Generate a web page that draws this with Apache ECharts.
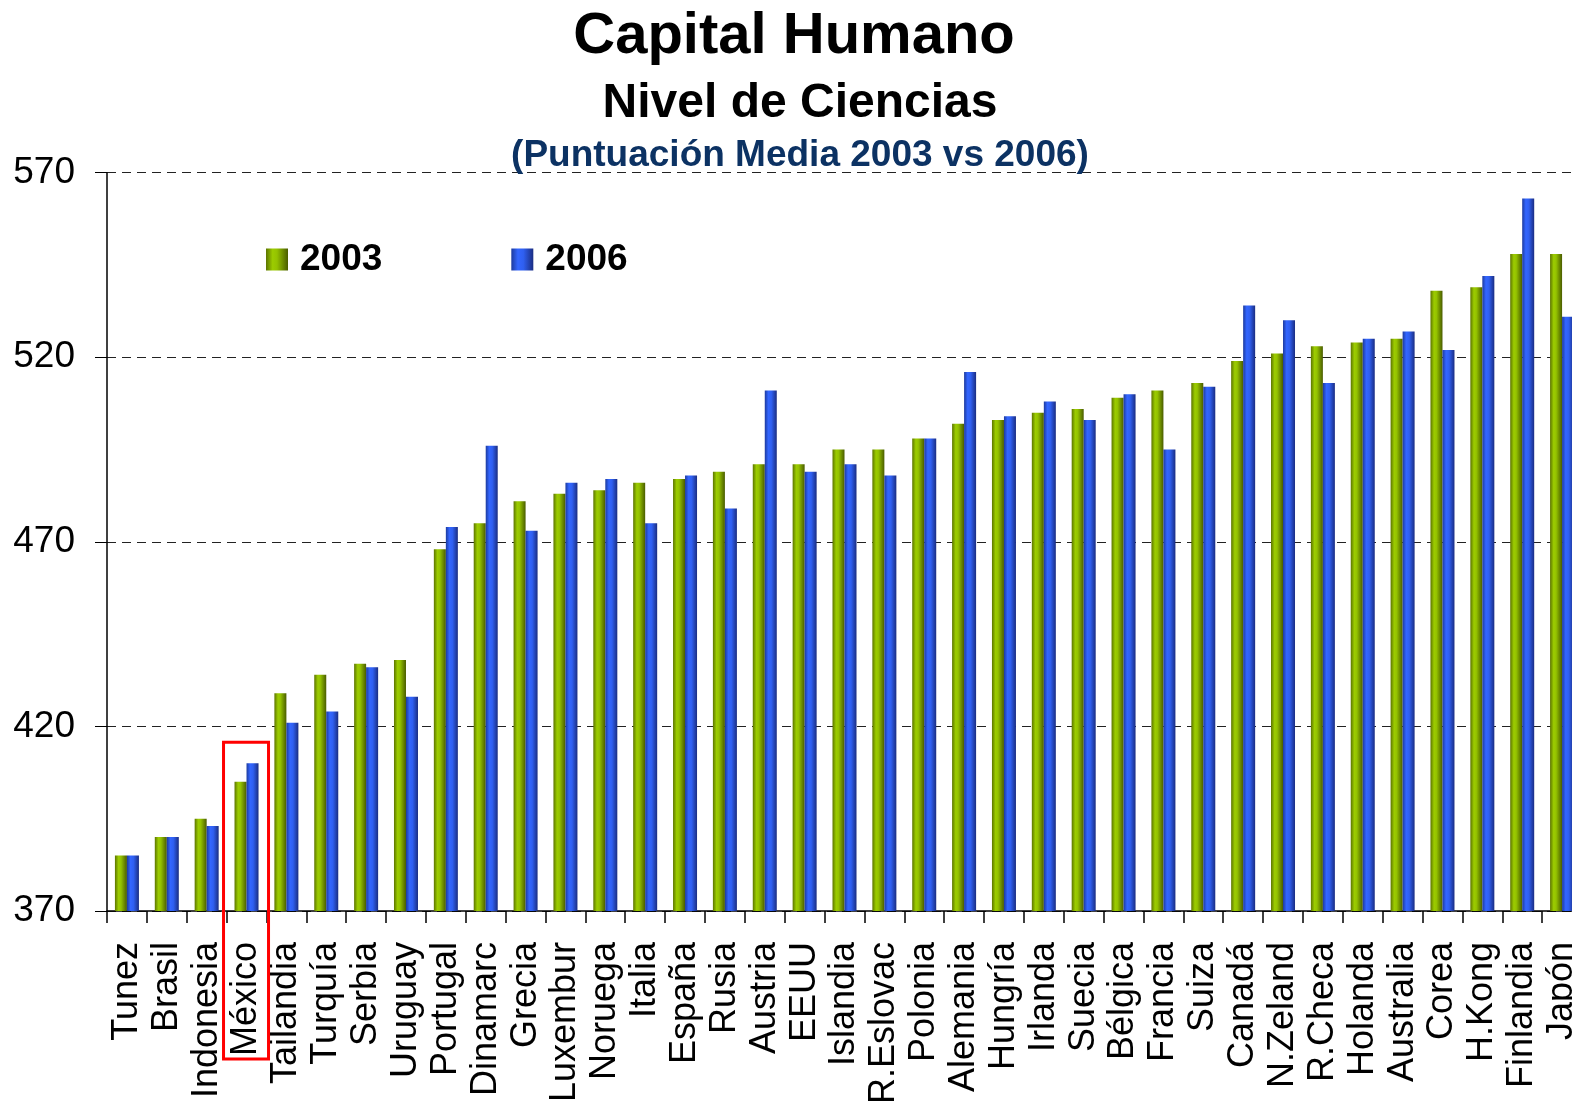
<!DOCTYPE html>
<html>
<head>
<meta charset="utf-8">
<title>Capital Humano - Nivel de Ciencias</title>
<script src="https://cdn.jsdelivr.net/npm/echarts@6/dist/echarts.min.js"></script>
<style>
  html, body { margin: 0; padding: 0; background: #ffffff; overflow: hidden; }
  /* the plot runs slightly past the right edge of the page, so the canvas is wider than the window */
  #chart { width: 1600px; height: 1107px; }
</style>
</head>
<body>
<div id="chart"></div>
<script>
// PISA science scores, mean score per country
const countries = ['Tunez', 'Brasil', 'Indonesia', 'México', 'Tailandia', 'Turquía', 'Serbia', 'Uruguay',
  'Portugal', 'Dinamarc', 'Grecia', 'Luxembur', 'Noruega', 'Italia', 'España', 'Rusia', 'Austria', 'EEUU',
  'Islandia', 'R.Eslovac', 'Polonia', 'Alemania', 'Hungría', 'Irlanda', 'Suecia', 'Bélgica', 'Francia',
  'Suiza', 'Canadá', 'N.Zeland', 'R.Checa', 'Holanda', 'Australia', 'Corea', 'H.Kong', 'Finlandia', 'Japón'];

const scores2003 = [385, 390, 395, 405, 429, 434, 437, 438, 468, 475, 481, 483, 484, 486, 487, 489, 491, 491,
  495, 495, 498, 502, 503, 505, 506, 509, 511, 513, 519, 521, 523, 524, 525, 538, 539, 548, 548];

const scores2006 = [385, 390, 393, 410, 421, 424, 436, 428, 474, 496, 473, 486, 487, 475, 488, 479, 511, 489,
  491, 488, 498, 516, 504, 508, 503, 510, 495, 512, 534, 530, 513, 525, 527, 522, 542, 563, 531];

const seriesNames = ['2003', '2006'];
const yTicks = [370, 420, 470, 520, 570];
const highlighted = 'México';

const titleText = 'Capital Humano';
const subtitleText = 'Nivel de Ciencias';
const noteText = '(Puntuación Media 2003 vs 2006)';

const FONT = 'Arial, "Liberation Sans", Helvetica, sans-serif';

const greenFill = new echarts.graphic.LinearGradient(0, 0, 1, 0, [
  { offset: 0, color: '#5c7400' },
  { offset: 0.3, color: '#9ccc00' },
  { offset: 0.5, color: '#94c200' },
  { offset: 1, color: '#4a5c00' }
]);
const blueFill = new echarts.graphic.LinearGradient(0, 0, 1, 0, [
  { offset: 0, color: '#1c3a9e' },
  { offset: 0.3, color: '#3366ff' },
  { offset: 0.55, color: '#2f5ff0' },
  { offset: 1, color: '#1a2d82' }
]);

const chart = echarts.init(document.getElementById('chart'), null, { renderer: 'canvas' });

const option = {
  backgroundColor: '#ffffff',
  animation: false,
  legend: {
    left: 266, top: 241, padding: 0,
    itemWidth: 22, itemHeight: 22, itemGap: 129,
    icon: 'rect',
    data: seriesNames,
    textStyle: { fontFamily: FONT, fontSize: 37, fontWeight: 'bold', color: '#000000', padding: [0, 0, 0, 7] }
  },
  grid: { left: 107, right: 18, top: 172.7, bottom: 195.3, containLabel: false },
  xAxis: {
    type: 'category',
    data: countries,
    axisLine: { lineStyle: { color: '#000000', width: 1.5 } },
    axisTick: { show: true, length: 12, interval: 0, lineStyle: { color: '#000000', width: 1.5 } },
    axisLabel: {
      interval: 0, rotate: 90, margin: 31,
      fontFamily: FONT, fontSize: 36, color: '#000000'
    }
  },
  yAxis: {
    type: 'value',
    min: yTicks[0], max: yTicks[yTicks.length - 1], interval: 50,
    axisLine: { show: true, lineStyle: { color: '#000000', width: 1.5 } },
    axisTick: { show: true, length: 12, lineStyle: { color: '#000000', width: 1 } },
    axisLabel: { margin: 32, fontFamily: FONT, fontSize: 37, color: '#000000' },
    splitLine: { show: true, lineStyle: { color: '#222222', width: 1, type: [9, 6] } }
  },
  series: [
    {
      name: seriesNames[0], type: 'bar', data: scores2003,
      barWidth: 12, barGap: '0%',
      itemStyle: { color: greenFill }
    },
    {
      name: seriesNames[1], type: 'bar', data: scores2006,
      barWidth: 12, barGap: '0%',
      itemStyle: { color: blueFill }
    }
  ]
};

chart.setOption(option);

// Titles plus a red frame around the highlighted country, from its bars down through its label
function drawOverlay() {
  const cx = chart.convertToPixel({ xAxisIndex: 0 }, highlighted);
  const yTop = chart.convertToPixel({ yAxisIndex: 0 }, 415.7);
  const yBase = chart.convertToPixel({ yAxisIndex: 0 }, yTicks[0]);
  chart.setOption({
    graphic: [
      {
        type: 'text', x: 794, y: 8,
        style: { text: titleText, align: 'center', verticalAlign: 'top',
          font: 'bold 58px ' + FONT, fill: '#000000' }
      },
      {
        type: 'text', x: 800, y: 80,
        style: { text: subtitleText, align: 'center', verticalAlign: 'top',
          font: 'bold 48px ' + FONT, fill: '#000000' }
      },
      {
        type: 'text', x: 800, y: 137,
        style: { text: noteText, align: 'center', verticalAlign: 'top',
          font: 'bold 37px ' + FONT, fill: '#0c3263' }
      },
      {
        type: 'rect',
        z: 100,
        shape: { x: cx - 23, y: yTop, width: 45, height: yBase + 148 - yTop },
        style: { fill: 'none', stroke: '#ff0000', lineWidth: 3 }
      }
    ]
  });
}
drawOverlay();
</script>
</body>
</html>
